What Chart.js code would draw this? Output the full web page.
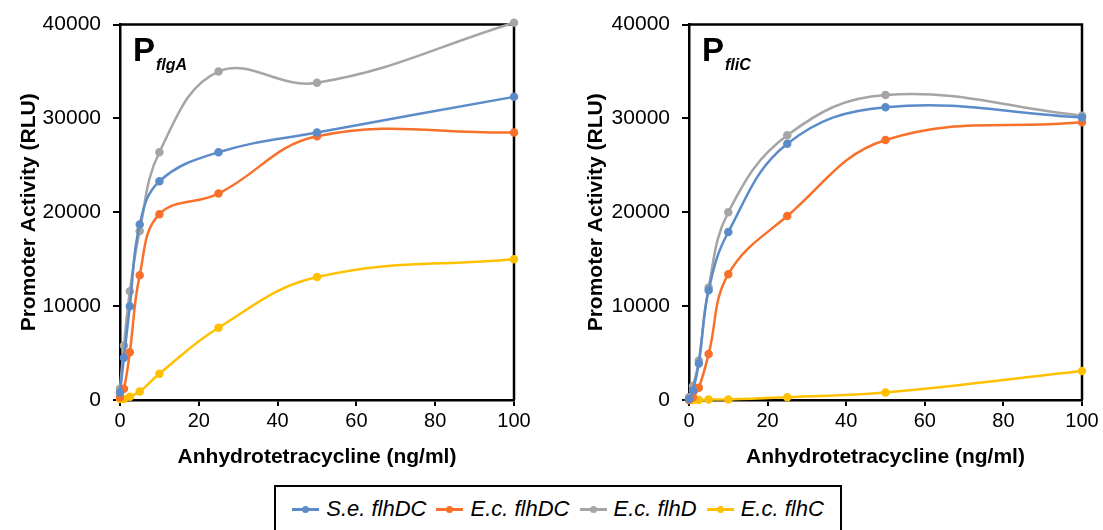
<!DOCTYPE html>
<html>
<head>
<meta charset="utf-8">
<script src="https://cdn.jsdelivr.net/npm/chart.js@4.4.1/dist/chart.umd.min.js"></script>
<style>
  html, body { margin: 0; padding: 0; background: #fff; width: 1103px; height: 530px; overflow: hidden; position: relative; font-family: "Liberation Sans", Arial, sans-serif; }
  #c1 { position: absolute; left: 0; top: 0; }
  #c2 { position: absolute; left: 569px; top: 0; }
  #legend { position: absolute; left: 274px; top: 485px; width: 568px; height: 60px; border: 2px solid #000; box-sizing: border-box; display: flex; justify-content: center; align-items: flex-start; padding-top: 9px; }
  .item { display: flex; align-items: center; margin: 0 5px; font-style: italic; font-size: 22px; color: #000; }
  .mk { position: relative; width: 27px; height: 3px; margin-right: 7px; }
  .mk span { position: absolute; left: 10px; top: -2px; width: 7px; height: 7px; border-radius: 50%; }
</style>
</head>
<body>
<canvas id="c1" width="550" height="480"></canvas>
<canvas id="c2" width="534" height="480"></canvas>
<div id="legend"></div>
<script>
// ---- data ----
const doses = [0, 1, 2.5, 5, 10, 25, 50, 100];
const seriesNames = ["S.e. flhDC", "E.c. flhDC", "E.c. flhD", "E.c. flhC"];
const seriesColors = ["#5B8BC9", "#F8702A", "#A5A5A5", "#FFC000"];

const flgA_SeFlhDC = [800, 4500, 10000, 18700, 23300, 26400, 28500, 32300];
const flgA_EcFlhDC = [300, 1200, 5100, 13300, 19800, 22000, 28100, 28500];
const flgA_EcFlhD  = [1200, 5800, 11600, 18000, 26400, 35000, 33800, 40200];
const flgA_EcFlhC  = [100, 100, 350, 900, 2800, 7700, 13100, 15000];

const fliC_SeFlhDC = [100, 1000, 3900, 11700, 17900, 27300, 31200, 30100];
const fliC_EcFlhDC = [0, 300, 1300, 4900, 13400, 19600, 27700, 29600];
const fliC_EcFlhD  = [300, 1500, 4200, 12000, 20000, 28200, 32500, 30300];
const fliC_EcFlhC  = [0, 0, 0, 50, 50, 300, 800, 3100];

const xTitle = "Anhydrotetracycline (ng/ml)";
const yTitle = "Promoter Activity (RLU)";

function toPts(vals) { return doses.map((d, i) => ({x: d, y: vals[i]})); }

function makeDatasets(arrs) {
  return arrs.map((vals, i) => ({
    label: seriesNames[i],
    data: toPts(vals),
    borderColor: seriesColors[i],
    backgroundColor: seriesColors[i],
    borderWidth: 2.5,
    pointRadius: 3,
    pointHoverRadius: 3,
    tension: 0.4,
    clip: false
  }));
}

const frame = {
  id: 'frame',
  beforeDatasetsDraw(chart) {
    const a = chart.chartArea, ctx = chart.ctx;
    ctx.save();
    ctx.strokeStyle = '#000';
    ctx.lineWidth = 2.5;
    ctx.beginPath();
    ctx.moveTo(a.left, a.top); ctx.lineTo(a.right, a.top); ctx.lineTo(a.right, a.bottom);
    ctx.stroke();
    ctx.restore();
  },
  afterDraw(chart, args, opts) {
    const a = chart.chartArea, ctx = chart.ctx;
    ctx.save();
    ctx.fillStyle = '#000';
    ctx.textBaseline = 'alphabetic';
    ctx.font = 'bold 33px "Liberation Sans", Arial, sans-serif';
    ctx.fillText('P', a.left + 13, a.top + 36);
    const w = ctx.measureText('P').width;
    ctx.font = 'italic bold 16px "Liberation Sans", Arial, sans-serif';
    ctx.fillText(opts.sub, a.left + 13 + w + 1, a.top + 45);
    ctx.restore();
  }
};

function makeChart(id, arrs, sub, padRight, yTitlePad) {
  return new Chart(document.getElementById(id), {
    type: 'line',
    data: { datasets: makeDatasets(arrs) },
    plugins: [frame],
    options: {
      responsive: false,
      animation: false,
      events: [],
      layout: { padding: { top: 22, right: padRight, left: 0, bottom: 0 } },
      plugins: { legend: { display: false }, tooltip: { enabled: false }, frame: { sub: sub } },
      scales: {
        x: {
          type: 'linear', min: 0, max: 100,
          ticks: { stepSize: 20, color: '#000', font: { size: 20, family: '"Liberation Sans", Arial, sans-serif' }, padding: 3, maxRotation: 0, callback: v => String(v) },
          grid: { display: true, drawOnChartArea: false, drawTicks: true, tickLength: 6, color: '#000', lineWidth: 2 },
          border: { display: true, color: '#000', width: 2.5 },
          title: { display: true, text: xTitle, color: '#000', font: { size: 21, weight: 'bold', family: '"Liberation Sans", Arial, sans-serif' }, padding: { top: 0, bottom: 10 } },
          afterFit(s) { s.height = 80; }
        },
        y: {
          type: 'linear', min: 0, max: 40000,
          ticks: { stepSize: 10000, color: '#000', font: { size: 21, family: '"Liberation Sans", Arial, sans-serif' }, padding: 12, callback: v => String(v) },
          grid: { display: true, drawOnChartArea: false, drawTicks: true, tickLength: 7, color: '#000', lineWidth: 2 },
          border: { display: true, color: '#000', width: 2.5 },
          title: { display: true, text: yTitle, color: '#000', font: { size: 21, weight: 'bold', family: '"Liberation Sans", Arial, sans-serif' }, padding: { top: yTitlePad, bottom: 0 } },
          afterFit(s) { s.width = 120; }
        }
      }
    }
  });
}

makeChart('c1', [flgA_SeFlhDC, flgA_EcFlhDC, flgA_EcFlhD, flgA_EcFlhC], 'flgA', 36, 17);
makeChart('c2', [fliC_SeFlhDC, fliC_EcFlhDC, fliC_EcFlhD, fliC_EcFlhC], 'fliC', 21, 15);

// legend
const lg = document.getElementById('legend');
seriesNames.forEach((n, i) => {
  const it = document.createElement('div');
  it.className = 'item';
  const mk = document.createElement('div');
  mk.className = 'mk';
  mk.style.background = seriesColors[i];
  const dot = document.createElement('span');
  dot.style.background = seriesColors[i];
  mk.appendChild(dot);
  it.appendChild(mk);
  const t = document.createElement('span');
  t.textContent = n;
  it.appendChild(t);
  lg.appendChild(it);
});
</script>
</body>
</html>
